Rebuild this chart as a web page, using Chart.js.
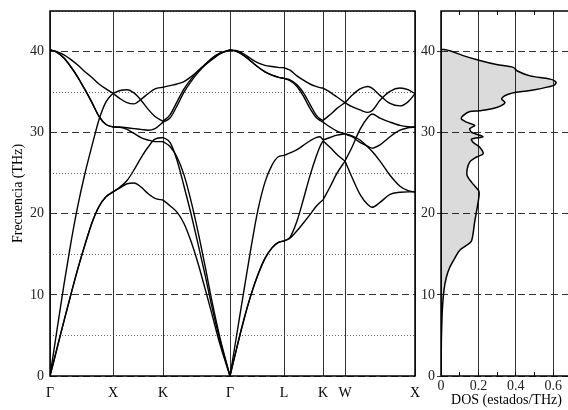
<!DOCTYPE html>
<html>
<head>
<meta charset="utf-8">
<script src="https://cdn.jsdelivr.net/npm/chart.js@4.4.0/dist/chart.umd.min.js"></script>
<style>
html,body{margin:0;padding:0;background:#fff;overflow:hidden;width:568px;height:410px}
#bandBox{position:absolute;left:0;top:0}
#dosBox{position:absolute;left:400px;top:0}
</style>
</head>
<body>
<div id="bandBox"><canvas id="bandChart" width="430" height="410"></canvas></div>
<div id="dosBox"><canvas id="dosChart" width="180" height="410"></canvas></div>
<script>
// camino en la zona de Brillouin (distancia acumulada)
const symK=[0,63,113,180,234,273,295,365];
const symLabels=["Γ","X","K","Γ","L","K","W","X"];
const kGrid=[
0,7,14,21,28,35,42,49,56,63,
70,77,84,91,98,105,113,
120,127,134,141,148,155,162,170,180,
187,194,201,208,215,222,228,234,
240,247,253,260,266,270,273,
280,287,295,
302,310,318,322,330,340,350,358,365];

// ramas de fonones (THz)
const band1=[
0,3.4,6.8,10.1,13.3,16.2,18.9,20.9,22.1,22.7,
23.2,23.7,23.8,23.3,22.5,21.9,21.7,
21.0,20.2,18.8,16.6,13.9,10.8,7.6,3.9,0,
3.6,7.0,10.0,12.5,14.5,15.8,16.45,16.65,
17.0,17.9,18.8,19.9,20.9,21.4,21.7,
23.3,25.0,26.5,
28.2,30.4,31.9,32.3,31.8,31.3,30.9,30.75,30.7];
const band2=[
0,3.4,6.8,10.1,13.3,16.2,18.9,20.9,22.1,22.7,
23.3,24.1,25.4,26.9,28.2,29.2,29.4,
28.8,26.6,23.4,20.0,16.3,12.5,8.5,4.4,0,
3.6,7.0,10.0,12.5,14.5,15.8,16.45,16.65,
17.1,19.1,21.6,24.7,27.0,28.3,29.0,
28.2,27.3,26.5,
24.5,22.4,21.1,20.8,21.4,22.4,22.65,22.7,22.7];
const band3=[
40.2,39.9,39.2,38.1,36.8,35.3,33.7,32.0,31.0,30.7,
30.65,30.4,29.9,29.4,29.1,28.9,28.9,
28.3,27.0,24.8,21.6,17.8,13.6,9.2,4.7,0,
5.3,10.6,15.8,20.5,23.9,26.0,27.0,27.2,
27.5,27.9,28.4,29.0,29.4,29.5,29.1,
29.4,29.7,29.85,
29.6,29.1,28.2,27.7,26.5,24.75,23.4,22.85,22.7];
const band4=[
40.2,39.9,39.2,38.1,36.8,35.3,33.7,32.0,31.0,30.7,
30.7,30.6,30.5,30.4,30.3,30.5,31.3,
31.8,33.3,35.0,36.3,37.4,38.3,39.0,39.7,40.2,
40.0,39.5,38.8,38.1,37.5,37.1,36.85,36.7,
36.4,35.7,34.6,33.0,31.9,31.5,31.3,
30.7,30.2,29.85,
29.5,28.8,28.3,28.1,28.5,29.5,30.3,30.6,30.7];
const band5=[
0,5.7,11.3,16.5,21.1,25.0,28.4,31.6,33.8,34.85,
35.2,35.3,34.9,34.0,32.9,32.0,31.4,
32.2,33.8,35.4,36.6,37.6,38.4,39.1,39.8,40.2,
40.0,39.5,38.8,38.1,37.5,37.1,36.85,36.7,
36.5,35.9,35.0,33.5,32.2,31.7,31.5,
32.2,33.0,33.7,
34.6,35.4,35.7,35.5,34.6,33.6,33.3,33.8,34.8];
const band6=[
40.2,40.0,39.6,39.0,38.3,37.5,36.8,36.0,35.4,34.85,
34.2,33.7,33.55,34.1,34.8,35.4,35.6,
35.8,36.0,36.3,36.9,37.6,38.4,39.2,39.8,40.2,
40.1,39.7,39.1,38.6,38.3,38.15,38.05,38.0,
37.7,37.0,36.5,36.0,35.7,35.55,35.5,
35.0,34.4,33.7,
33.2,32.8,32.5,32.7,34.0,35.1,35.5,35.3,34.8];

// densidad de estados
const dosFreq=[0,2,4.4,6.2,8.1,10.6,12.2,13.4,14.5,15.5,16.1,16.65,19,21.65,22.5,22.9,23.9,24.7,25.5,26.4,27.0,27.4,28.2,28.8,29.2,29.5,30.05,30.5,30.9,31.3,31.7,32.1,32.6,32.7,33.1,33.7,34.2,34.8,35.2,35.8,36.2,36.6,37.0,37.6,38.05,38.4,38.9,39.5,40.1,40.3];
const dosValue=[0,0.001,0.002,0.004,0.007,0.016,0.029,0.047,0.073,0.1,0.136,0.163,0.18,0.2,0.204,0.2,0.163,0.14,0.14,0.154,0.19,0.225,0.207,0.172,0.163,0.225,0.163,0.154,0.18,0.136,0.109,0.118,0.154,0.207,0.297,0.342,0.324,0.368,0.476,0.6,0.615,0.583,0.476,0.408,0.386,0.297,0.207,0.118,0.047,0];

Chart.defaults.font.family='"Liberation Serif","Times New Roman",serif';
Chart.defaults.font.size=14;
Chart.defaults.color='#111';

const frame={id:'frame',afterDraw(c){
let a=c.chartArea,ctx=c.ctx;
ctx.save();ctx.strokeStyle='#000';ctx.lineWidth=1.5;
ctx.strokeRect(a.left,a.top,a.right-a.left,a.bottom-a.top);
ctx.restore();
}};

function minorAxis(){
return {position:'left',min:0,max:45,afterFit:s=>{s.width=0;s.paddingTop=0;s.paddingBottom=0;},
ticks:{display:false,stepSize:5,includeBounds:false},
grid:{color:c=>c.tick&&c.tick.value%10===0?'rgba(0,0,0,0)':'#666',drawTicks:false,lineWidth:1},
border:{display:false,dash:[1,2]}};
}

// marcas cortas hacia dentro cada 0.1 en el panel DOS
function dosTickAxis(pos){
return {position:pos,weight:-1,min:0,max:0.7,afterFit:s=>{s.height=0;s.paddingLeft=0;s.paddingRight=0;},
ticks:{display:false,stepSize:0.1,includeBounds:false},
grid:{drawOnChartArea:false,drawTicks:true,tickLength:-4,tickColor:'#000',tickWidth:1},
border:{display:false}};
}

let datasets=[];
[band1,band2,band3,band4,band5,band6].forEach(b=>{
for(let s=0;s<symK.length-1;s++){
let pts=[];
kGrid.forEach((k,i)=>{if(k>=symK[s]&&k<=symK[s+1])pts.push({x:k,y:b[i]});});
datasets.push({data:pts,showLine:true,borderColor:'#000',borderWidth:1.4,pointRadius:0,cubicInterpolationMode:'monotone',fill:false});
}
});

new Chart(document.getElementById('bandChart'),{
type:'scatter',
data:{datasets:datasets},
plugins:[frame],
options:{
responsive:false,animation:false,
layout:{padding:{top:11,right:15,left:0,bottom:0}},
plugins:{legend:{display:false},tooltip:{enabled:false}},
scales:{
x:{type:'linear',min:0,max:365,
afterBuildTicks:s=>{s.ticks=symK.map(v=>({value:v}));},
afterFit:s=>{s.height=34;},
ticks:{autoSkip:false,maxRotation:0,padding:9,color:'#000',callback:(v,i)=>symLabels[i]},
grid:{color:'#333',lineWidth:1,drawTicks:false},
border:{display:false}},
y:{min:0,max:45,afterFit:s=>{s.width=50;s.paddingTop=0;s.paddingBottom=0;},
ticks:{stepSize:10,includeBounds:false,padding:6,color:'#222'},
grid:{color:'#333',lineWidth:1,drawTicks:false},
border:{display:false,dash:[7,4]},
title:{display:true,text:'Frecuencia (THz)',color:'#000',padding:{top:10,bottom:0}}},
y2:minorAxis()
}
}
});

new Chart(document.getElementById('dosChart'),{
type:'line',
data:{datasets:[{
data:dosFreq.map((f,i)=>({x:dosValue[i],y:f})),
borderColor:'#000',borderWidth:1.5,backgroundColor:'rgba(0,0,0,0.14)',
fill:'origin',pointRadius:0,tension:0.3
}]},
plugins:[frame],
options:{
indexAxis:'y',responsive:false,animation:false,
layout:{padding:{top:11,right:8,left:0,bottom:0}},
plugins:{legend:{display:false},tooltip:{enabled:false}},
scales:{
x:{type:'linear',min:0,max:0.7,afterFit:s=>{s.height=34;},
ticks:{stepSize:0.2,includeBounds:false,padding:2,color:'#222',callback:v=>String(Math.round(v*10)/10)},
grid:{color:'#333',lineWidth:1,drawTicks:false},
border:{display:false},
title:{display:true,text:'DOS (estados/THz)',color:'#000',padding:{top:0,bottom:1}}},
xTop:dosTickAxis('top'),
xBot:dosTickAxis('bottom'),
y:{type:'linear',min:0,max:45,afterFit:s=>{s.width=41;s.paddingTop=0;s.paddingBottom=0;},
ticks:{stepSize:10,includeBounds:false,padding:2,color:'#222'},
grid:{color:'#333',lineWidth:1,drawTicks:true,tickLength:4},
border:{display:false,dash:[7,4]}},
y2:minorAxis()
}
}
});
</script>
</body>
</html>
